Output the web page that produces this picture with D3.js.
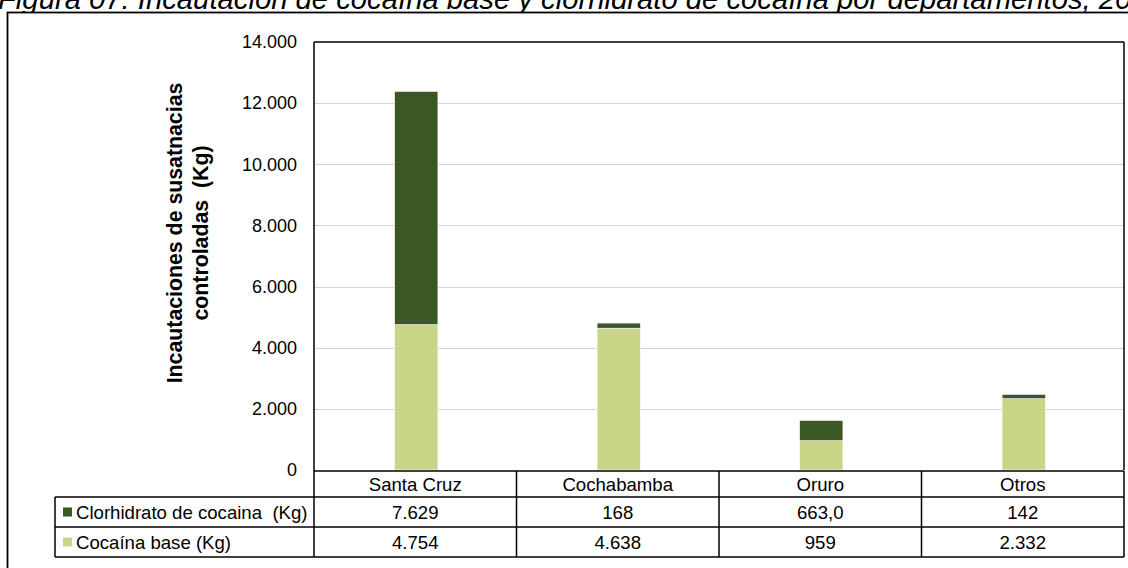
<!DOCTYPE html>
<html>
<head>
<meta charset="utf-8">
<script src="https://cdn.jsdelivr.net/npm/d3@7"></script>
<style>
  body { margin: 0; background: #fff; }
  svg { display: block; font-family: "Liberation Sans", Arial, sans-serif; }
  .pre { white-space: pre; }
</style>
</head>
<body>
<script>
var departamentos = ["Santa Cruz", "Cochabamba", "Oruro", "Otros"];
var clorhidrato = [7629, 168, 663.0, 142];
var clorDecimales = [0, 0, 1, 0];
var cocainaBase = [4754, 4638, 959, 2332];
var baseDecimales = [0, 0, 0, 0];
var yTicks = [0, 2000, 4000, 6000, 8000, 10000, 12000, 14000];
var series = ["Clorhidrato de cocaina  (Kg)", "Cocaína base (Kg)"];
var colores = ["#3a5724", "#c9d586"];
var titulo = "Figura 07: Incautación de cocaína base y clorhidrato de cocaína por departamentos, 2014";
var tituloVisible = "Figura 07: Incautación de cocaína base y clorhidrato de cocaína por departamentos, 20";
var yTitulo = ["Incautaciones de susatnacias", "controladas  (Kg)"];

var W = 1128, H = 568;
var plotL = 314, plotR = 1124, plotT = 42, plotB = 470;
var rowH = 30, tableLeft = 55;

var es = d3.formatLocale({decimal: ",", thousands: ".", grouping: [3], currency: ["", ""]});

var svg = d3.select("body").append("svg").attr("width", W).attr("height", H);

// title, mostly cut off at the top
var probe = svg.append("text").attr("font-style", "italic").attr("font-size", 20).text(tituloVisible);
var tw = probe.node().getComputedTextLength();
probe.remove();
svg.append("text")
  .attr("x", -2).attr("y", 9)
  .attr("font-style", "italic")
  .attr("font-size", 20 * 1134 / tw)
  .attr("fill", "#000")
  .text(titulo);

// outer frame
svg.append("rect")
  .attr("x", 7.5).attr("y", 12.5).attr("width", 1140).attr("height", 600)
  .attr("fill", "#fff").attr("stroke", "#000").attr("stroke-width", 1.8);

var x = d3.scaleBand().domain(departamentos).range([plotL, plotR]).padding(0);
var y = d3.scaleLinear().domain([0, 14000]).range([plotB, plotT]);

// gridlines
svg.append("g").selectAll("line")
  .data(yTicks.slice(1, -1))
  .enter().append("line")
    .attr("x1", plotL).attr("x2", plotR)
    .attr("y1", function(d){ return Math.round(y(d)) + 0.5; })
    .attr("y2", function(d){ return Math.round(y(d)) + 0.5; })
    .attr("stroke", "#d4d4d4").attr("stroke-width", 1);

// y axis labels
var yAxis = d3.axisLeft(y).tickValues(yTicks).tickSize(0).tickPadding(17)
  .tickFormat(function(d){ return es.format(",.0f")(d); });
var gy = svg.append("g").attr("transform", "translate(" + plotL + ",0)").call(yAxis);
gy.select(".domain").remove();
gy.selectAll("text").attr("font-size", 18).attr("fill", "#000")
  .attr("font-family", "'Liberation Sans', Arial, sans-serif");

// y title
var yt = svg.append("text")
  .attr("class", "pre")
  .attr("transform", "translate(188,233) rotate(-90)")
  .attr("text-anchor", "middle")
  .attr("font-weight", "bold").attr("font-size", 21.3).attr("fill", "#000");
yTitulo.forEach(function(t, i){
  yt.append("tspan").attr("x", 0).attr("y", (i - 0.5) * 26 + 7).text(t);
});

// stacked bars
var barW = x.bandwidth() * 0.214;
var stackData = departamentos.map(function(d, i){ return {dep: d, base: cocainaBase[i], clor: clorhidrato[i]}; });
var stacked = d3.stack().keys(["base", "clor"])(stackData);
var barColor = {base: colores[1], clor: colores[0]};

svg.append("g").selectAll("g")
  .data(stacked)
  .enter().append("g")
    .attr("fill", function(s){ return barColor[s.key]; })
  .selectAll("rect")
  .data(function(s){ return s; })
  .enter().append("rect")
    .attr("x", function(d){ return x(d.data.dep) + (x.bandwidth() - barW) / 2 + 1; })
    .attr("width", barW)
    .attr("y", function(d){ return y(d[1]); })
    .attr("height", function(d){ return y(d[0]) - y(d[1]); })
    .attr("stroke", "#ffffff").attr("stroke-width", 0.6);

// plot frame (top and right) and left axis line
var frame = svg.append("g").attr("stroke", "#000").attr("stroke-width", 1.5).attr("fill", "none");
frame.append("line").attr("x1", plotL).attr("x2", plotR).attr("y1", plotT).attr("y2", plotT);
frame.append("line").attr("x1", plotR).attr("x2", plotR).attr("y1", plotT).attr("y2", plotB);
frame.append("line").attr("x1", plotL).attr("x2", plotL).attr("y1", plotT).attr("y2", plotB + 1 + rowH * 2 + 26);

// data table
var hdrTop = plotB + 1, hdrBot = hdrTop + 26;
var rowTops = [hdrBot, hdrBot + rowH, hdrBot + rowH * 2];
var tbl = svg.append("g").attr("stroke", "#000").attr("stroke-width", 1.5);
tbl.append("line").attr("x1", plotL).attr("x2", plotR).attr("y1", hdrTop).attr("y2", hdrTop);
rowTops.forEach(function(r){
  tbl.append("line").attr("x1", tableLeft).attr("x2", plotR).attr("y1", r).attr("y2", r);
});
tbl.append("line").attr("x1", tableLeft).attr("x2", tableLeft).attr("y1", hdrBot).attr("y2", rowTops[2]);
departamentos.forEach(function(d){
  tbl.append("line").attr("x1", x(d) + x.bandwidth()).attr("x2", x(d) + x.bandwidth())
    .attr("y1", hdrTop).attr("y2", rowTops[2]);
});

var txt = svg.append("g").attr("font-size", 18.6).attr("fill", "#000");
txt.selectAll("text.hdr")
  .data(departamentos)
  .enter().append("text")
    .attr("class", "hdr")
    .attr("x", function(d){ return x(d) + x.bandwidth() / 2; })
    .attr("y", (hdrTop + hdrBot) / 2 + 6.5)
    .attr("text-anchor", "middle")
    .text(function(d){ return d; });

var filas = [
  {vals: clorhidrato, dec: clorDecimales},
  {vals: cocainaBase, dec: baseDecimales}
];
filas.forEach(function(f, r){
  var cy = rowTops[r] + rowH / 2;
  txt.selectAll("text.row" + r)
    .data(f.vals)
    .enter().append("text")
      .attr("class", "row" + r)
      .attr("x", function(d, i){ return x(departamentos[i]) + x.bandwidth() / 2; })
      .attr("y", cy + 6.5)
      .attr("text-anchor", "middle")
      .text(function(d, i){ return es.format(",." + f.dec[i] + "f")(d); });
  svg.append("rect")
    .attr("x", 63).attr("y", cy - 4.5).attr("width", 9).attr("height", 9)
    .attr("fill", colores[r]);
  txt.append("text").attr("class", "pre").attr("x", 76).attr("y", cy + 6.5).text(series[r]);
});
</script>
</body>
</html>
